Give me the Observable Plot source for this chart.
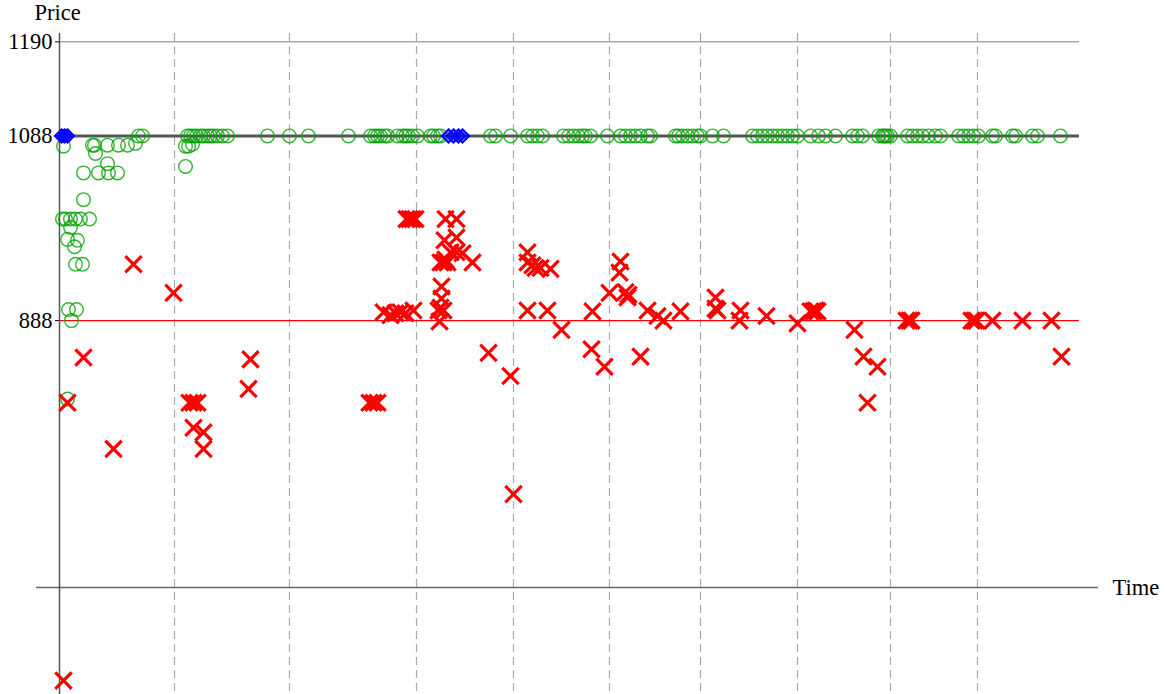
<!DOCTYPE html>
<html><head><meta charset="utf-8">
<script src="https://cdn.jsdelivr.net/npm/d3@7"></script>
<script src="https://cdn.jsdelivr.net/npm/@observablehq/plot@0.6"></script>
<style>
body{margin:0;background:#fff}
svg{display:block}
svg text{font-family:'Liberation Serif','DejaVu Serif',serif !important;}
</style>
</head><body><div id="chart"></div>
<script>
// Tick labels and reference levels
const yTicks = [888, 1088, 1190];
const refPrice = 888;
const capPrice = 1088;
const topPrice = 1190;
const axisPrice = 599;
const timeEnd = 1020;
const gridTimes = [115, 230, 357, 454, 550, 641, 738, 831, 918];

// Green circles on the 1088 line (times)
const greenLineTimes = [79, 83, 128, 131, 134, 137, 141, 144, 148, 151, 154, 158, 163, 168, 208, 230, 249, 289,
  311, 315, 318, 321, 325, 328, 338, 343, 346, 349, 353, 358, 371, 374, 378, 381, 431, 436, 451,
  468, 473, 478, 483, 504, 509, 514, 519, 523, 526, 531, 548, 561, 566, 571, 576, 581, 588, 591,
  616, 619, 623, 628, 633, 638, 641, 653, 664, 693, 698, 703, 708, 713, 718, 723, 728, 733, 738,
  751, 759, 766, 776, 793, 798, 803, 819, 823, 824, 826, 828, 831, 848, 853, 858, 863, 869, 876, 881,
  899, 904, 909, 914, 919, 933, 936, 953, 956, 973, 978, 1001];

// Green circles off the line
const greenTimes = [4, 33, 35, 48, 59, 68, 76, 36, 24, 39, 49, 58, 48, 24, 3, 6, 11, 16, 21, 30, 11, 8, 18, 15, 16, 23, 9, 17, 12, 8, 126, 129, 133, 126];
const greenPrices = [1077, 1078, 1078, 1078, 1078, 1078, 1080, 1069, 1048, 1048, 1048, 1048, 1058, 1019, 998, 998, 998, 998, 998, 998, 989, 976, 975, 968, 949, 949, 900, 900, 888, 803, 1077, 1077, 1079, 1055];

// Red crosses
const redTimes = [4, 8, 24, 54, 74, 114, 130, 134, 138, 134, 144, 144, 191, 189, 310, 314, 318, 324, 331, 336, 341, 346, 354,
  347, 350, 353, 356, 386, 397, 385, 397, 391, 397, 403, 381, 384, 388, 386, 413, 382, 382, 379, 384, 381, 380,
  429, 451, 454, 468, 468, 473, 476, 481, 491, 468, 488, 502, 532, 533, 545, 550, 561, 560, 566, 569, 568, 581,
  588, 598, 604, 621, 656, 656, 658, 681, 680, 707, 738, 751, 754, 758, 756, 795, 804, 808, 818, 847, 850, 852,
  912, 915, 917, 933, 963, 992, 1002];
const redPrices = [498, 799, 848, 749, 949, 918, 799, 799, 799, 772, 767, 749, 846, 814, 799, 799, 799, 897, 894, 896, 897, 896, 899,
  998, 998, 998, 998, 998, 998, 975, 978, 962, 962, 961, 951, 951, 951, 954, 951, 925, 912, 899, 899, 902, 887,
  853, 828, 700, 962, 951, 948, 945, 945, 944, 899, 899, 878, 857, 898, 838, 918, 952, 940, 919, 916, 913, 849,
  899, 893, 888, 898, 913, 901, 899, 899, 888, 893, 885, 898, 898, 898, 899, 878, 849, 799, 838, 888, 888, 888,
  888, 888, 888, 888, 888, 888, 849];

// Blue diamonds
const blueTimes = [2, 5, 8, 389, 394, 399, 403];
const bluePrices = [1088, 1088, 1088, 1088, 1088, 1088, 1088];

const green = greenLineTimes.map(t => ({t, p: capPrice}))
  .concat(greenTimes.map((t, i) => ({t, p: greenPrices[i]})));
const red = redTimes.map((t, i) => ({t, p: redPrices[i]}));
const blue = blueTimes.map((t, i) => ({t, p: bluePrices[i]}));

const font = "Liberation Serif";
const fs = 22.5;

const chart = Plot.plot({
  width: 1165, height: 694,
  marginLeft: 36, marginRight: 67, marginTop: 33, marginBottom: 0,
  x: {domain: [-23, 1039], axis: null},
  y: {domain: [483, 1199], axis: null},
  style: {fontFamily: font, background: "#fff", overflow: "visible", fontSize: fs + "px"},
  marks: [
    Plot.ruleX(gridTimes, {stroke: "#aaa", strokeWidth: 1.2, strokeDasharray: "8,5"}),
    Plot.ruleY([topPrice], {x1: 0, x2: timeEnd, stroke: "#aaa", strokeWidth: 1.5}),
    Plot.ruleY([refPrice], {x1: 0, x2: timeEnd, stroke: "#ff0000", strokeWidth: 1.1}),
    Plot.ruleY([capPrice], {x1: 0, x2: timeEnd, stroke: "#555", strokeWidth: 3}),
    Plot.ruleY([axisPrice], {stroke: "#666", strokeWidth: 1.5}),
    Plot.ruleX([0], {stroke: "#555", strokeWidth: 1.5}),
    Plot.ruleY(yTicks, {x1: -4, x2: 0, stroke: "#000", strokeWidth: 1}),
    Plot.text(yTicks, {x: 0, y: d => d, text: d => String(d), textAnchor: "end", dx: -7, fontSize: fs, fill: "#000"}),
    Plot.text(["Price"], {x: 0, y: 1199, dy: -14, dx: -2, textAnchor: "middle", lineAnchor: "bottom", fontSize: fs, fill: "#000"}),
    Plot.text(["Time"], {x: 1039, y: axisPrice, dx: 14, textAnchor: "start", fontSize: fs, fill: "#000"}),
    Plot.dot(green, {x: "t", y: "p", r: 6.8, stroke: "#00a000", strokeOpacity: 0.8, strokeWidth: 1.4, fill: "none"}),
    Plot.dot(blue, {x: "t", y: "p", symbol: "diamond2", r: 6, stroke: "#0000ff", fill: "#0000ff", fillOpacity: 0.5, strokeWidth: 2}),
    Plot.dot(red, {x: "t", y: "p", symbol: "times", r: 7.5, stroke: "#ff0000", strokeWidth: 3.2})
  ]
});
document.getElementById("chart").appendChild(chart);
</script>
</body></html>
